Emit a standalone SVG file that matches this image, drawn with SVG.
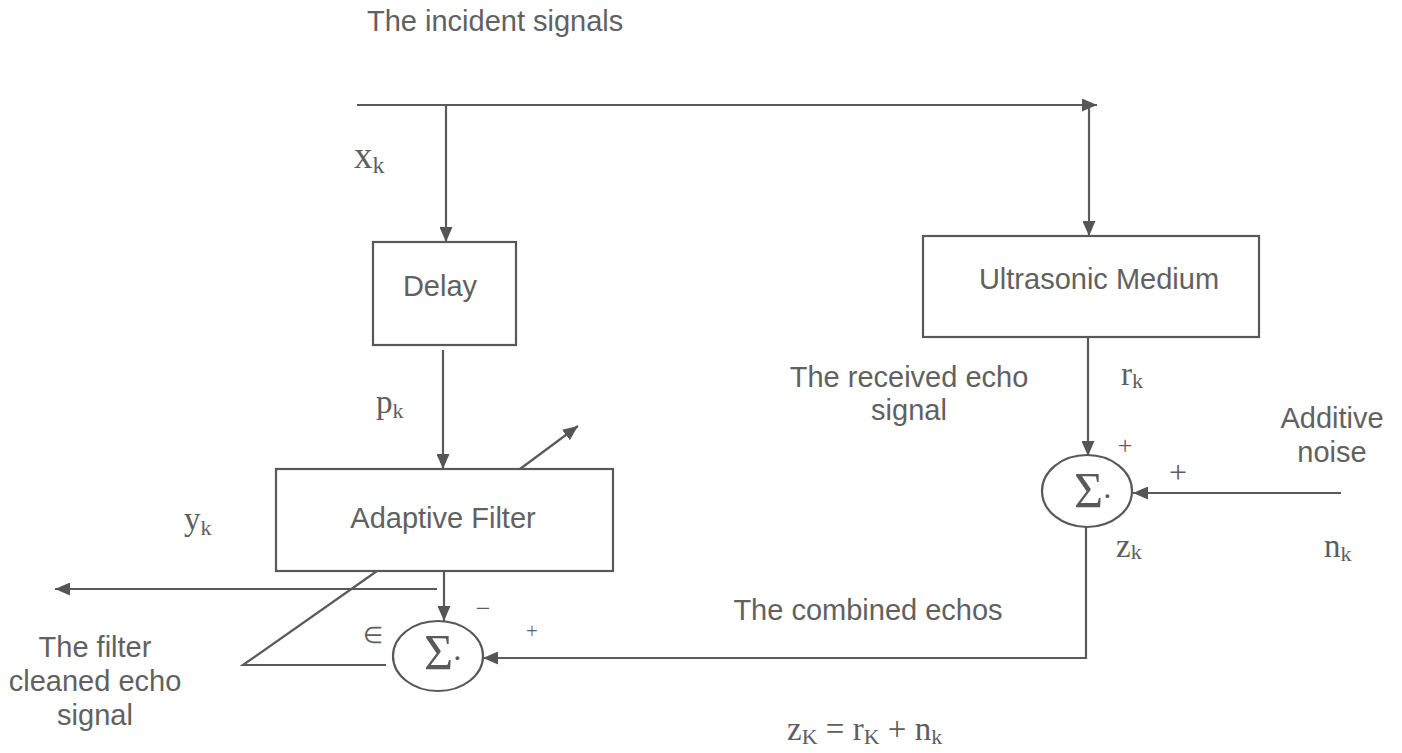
<svg xmlns="http://www.w3.org/2000/svg" width="1402" height="753" viewBox="0 0 1402 753">
<style>
.bg{fill:#ffffff}
.box{fill:none;stroke:#585858;stroke-width:2.2}
.ln{fill:none;stroke:#5a5a5a;stroke-width:2.2}
.sans{font-family:"Liberation Sans",Arial,sans-serif;font-size:29px;fill:#616161}
.serif{font-family:"Liberation Serif","Times New Roman",serif;font-size:33px;fill:#5e5e5e}
.sub{font-size:22px}
.sig{font-family:"Liberation Serif","Times New Roman",serif;font-size:50px;fill:#5a5a5a}
.sm{font-family:"Liberation Serif","Times New Roman",serif;font-size:26px;fill:#5e5e5e}
</style>
<defs>
<marker id="ah" viewBox="0 0 15 13" refX="15" refY="6.5" markerWidth="15" markerHeight="13" markerUnits="userSpaceOnUse" orient="auto">
<path d="M0,0 L15,6.5 L0,13 z" fill="#555"/>
</marker>
</defs>
<rect class="bg" x="0" y="0" width="1402" height="753"/>

<g id="connectors">
<path class="ln" d="M357,105 H1097" marker-end="url(#ah)"/>
<path class="ln" d="M446,105 V242" marker-end="url(#ah)"/>
<path class="ln" d="M1089,105 V236" marker-end="url(#ah)"/>
<path class="ln" d="M443,350 V469" marker-end="url(#ah)"/>
<path class="ln" d="M444,571 V621" marker-end="url(#ah)"/>
<path class="ln" d="M437,589 H55" marker-end="url(#ah)"/>
<path class="ln" d="M386,665 H243 L377,571"/>
<path class="ln" d="M520,469 L578,426" marker-end="url(#ah)"/>
<path class="ln" d="M1088,337 V456" marker-end="url(#ah)"/>
<path class="ln" d="M1341,493 H1133" marker-end="url(#ah)"/>
<path class="ln" d="M1086,527 V658 H483" marker-end="url(#ah)"/>
</g>

<g id="incident-label">
<text class="sans" x="367" y="31">The incident signals</text>
</g>

<g id="delay">
<rect class="box" x="373" y="242" width="143" height="103"/>
<text class="sans" x="440" y="296" text-anchor="middle">Delay</text>
</g>

<g id="adaptive-filter">
<rect class="box" x="276" y="469" width="337" height="102"/>
<text class="sans" x="443" y="528" text-anchor="middle">Adaptive Filter</text>
</g>

<g id="sum-left">
<ellipse class="box" cx="438" cy="656" rx="45" ry="35"/>
<text class="sig" x="424" y="669">Σ</text>
<text class="sig" x="452" y="669" style="font-size:32px">·</text>
</g>

<g id="ultrasonic-medium">
<rect class="box" x="923" y="236" width="336" height="101"/>
<text class="sans" x="1099" y="289" text-anchor="middle">Ultrasonic Medium</text>
</g>

<g id="sum-right">
<ellipse class="box" cx="1087" cy="491" rx="45" ry="36"/>
<text class="sig" x="1074" y="507">Σ</text>
<text class="sig" x="1102" y="507" style="font-size:32px">·</text>
</g>

<g id="labels">
<text class="serif" x="354" y="168" style="font-size:37px">x<tspan class="sub" dy="5" style="font-size:24px">k</tspan></text>
<text class="serif" x="376" y="413">p<tspan class="sub" dy="5">k</tspan></text>
<text class="serif" x="184" y="530">y<tspan class="sub" dy="5">k</tspan></text>
<text class="serif" x="1121" y="385">r<tspan class="sub" dy="3">k</tspan></text>
<text class="serif" x="1116" y="557">z<tspan class="sub" dy="2">k</tspan></text>
<text class="serif" x="1324" y="557">n<tspan class="sub" dy="4">k</tspan></text>
<text class="sm" x="1125" y="454" text-anchor="middle">+</text>
<text class="sm" x="1178" y="483" text-anchor="middle" style="font-size:32px">+</text>
<text class="sm" x="483" y="617" text-anchor="middle">−</text>
<text class="sm" x="532" y="638" text-anchor="middle" style="font-size:21px">+</text>
<text class="sm" x="373" y="643" text-anchor="middle" style="font-size:23px">∈</text>
<text class="sans" x="909" y="387" text-anchor="middle">The received echo</text>
<text class="sans" x="909" y="420" text-anchor="middle">signal</text>
<text class="sans" x="1332" y="428" text-anchor="middle">Additive</text>
<text class="sans" x="1332" y="462" text-anchor="middle">noise</text>
<text class="sans" x="868" y="620" text-anchor="middle">The combined echos</text>
<text class="sans" x="95" y="657" text-anchor="middle">The filter</text>
<text class="sans" x="95" y="691" text-anchor="middle">cleaned echo</text>
<text class="sans" x="95" y="725" text-anchor="middle">signal</text>
<text class="serif" x="787" y="740" style="font-size:33px">z<tspan dy="4" style="font-size:22px">K</tspan><tspan dy="-4"> = r</tspan><tspan dy="4" style="font-size:22px">K</tspan><tspan dy="-4"> + n</tspan><tspan dy="4" style="font-size:22px">k</tspan></text>
</g>
</svg>
